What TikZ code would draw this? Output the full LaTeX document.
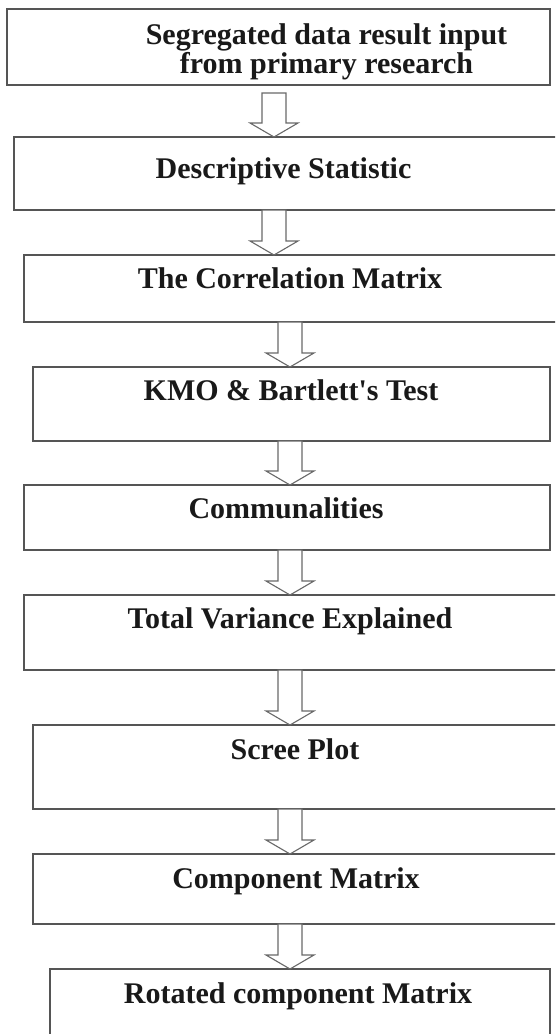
\documentclass[tikz,border=0pt]{standalone}
\usepackage{fontspec}
\newfontfamily\boxfont{Liberation Serif}
\usetikzlibrary{calc}
\definecolor{boxgray}{RGB}{85,85,85}
\definecolor{arrgray}{RGB}{105,105,105}
\definecolor{inkblack}{RGB}{25,25,25}

% hollow block arrow: x position, source box, target box, gap below source
\newcommand\flowarrow[4]{%
  \draw[hollow] let \p1=(#2.south), \p2=(#3.north) in
    ({#1pt-12pt},{\y1-#4pt}) -- ({#1pt-12pt},{\y2+14pt}) --
    ({#1pt-24pt},{\y2+14pt}) -- ({#1pt},{\y2}) --
    ({#1pt+24pt},{\y2+14pt}) -- ({#1pt+12pt},{\y2+14pt}) --
    ({#1pt+12pt},{\y1-#4pt}) -- cycle;}

\begin{document}
\begin{tikzpicture}[x=1pt,y=-1pt,
  box/.style={draw=boxgray,line width=1.6pt,rectangle,inner sep=0pt,outer sep=0pt},
  lbl/.style={font=\boxfont\fontsize{30}{29}\selectfont\bfseries,text=inkblack,
              inner sep=0pt,anchor=base,align=center},
  hollow/.style={draw=arrgray,line width=1.1pt,fill=white,line join=miter}]
\clip (0,0) rectangle (555,1034);
\fill[white] (0,0) rectangle (555,1034);

% process boxes
\node[box,minimum width=543pt,minimum height=76pt] (b1) at (278.5,47) {};
\node[box,minimum width=546pt,minimum height=73pt] (b2) at (287,173.5) {};
\node[box,minimum width=536pt,minimum height=67pt] (b3) at (292,288.5) {};
\node[box,minimum width=517pt,minimum height=74pt] (b4) at (291.5,404) {};
\node[box,minimum width=526pt,minimum height=65pt] (b5) at (287,517.5) {};
\node[box,minimum width=536pt,minimum height=75pt] (b6) at (292,632.5) {};
\node[box,minimum width=527pt,minimum height=84pt] (b7) at (296.5,767) {};
\node[box,minimum width=527pt,minimum height=70pt] (b8) at (296.5,889) {};
\node[box,minimum width=500pt,minimum height=76pt] (b9) at (300,1007) {};

% hollow arrows between consecutive boxes
\flowarrow{274}{b1}{b2}{8}
\flowarrow{274}{b2}{b3}{0}
\flowarrow{290}{b3}{b4}{0}
\flowarrow{290}{b4}{b5}{0}
\flowarrow{290}{b5}{b6}{0}
\flowarrow{290}{b6}{b7}{0}
\flowarrow{290}{b7}{b8}{0}
\flowarrow{290}{b8}{b9}{0}

% box titles (a two-line title sits on the baseline of its last line)
\node[lbl] (t1) at (326.5,73) {Segregated data result input\\from primary research};
\node[lbl] (t2) at (283.5,178) {Descriptive Statistic};
\node[lbl] (t3) at (290,288) {The Correlation Matrix};
\node[lbl] (t4) at (291,400) {KMO \& Bartlett's Test};
\node[lbl] (t5) at (286,518) {Communalities};
\node[lbl] (t6) at (290,628) {Total Variance Explained};
\node[lbl] (t7) at (295,759) {Scree Plot};
\node[lbl] (t8) at (296,888) {Component Matrix};
\node[lbl] (t9) at (298,1003) {Rotated component Matrix};
\end{tikzpicture}
\end{document}
